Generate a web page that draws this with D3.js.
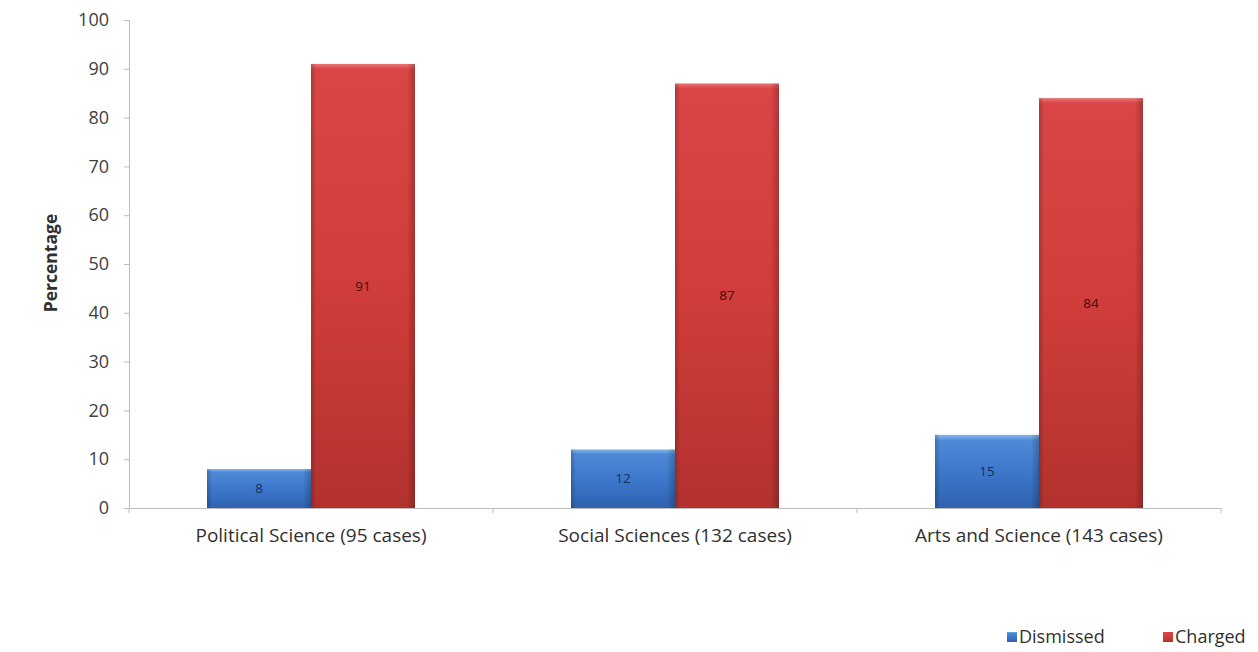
<!DOCTYPE html>
<html><head><meta charset="utf-8">
<script src="https://cdn.jsdelivr.net/npm/d3@7"></script>
<style>body{margin:0;background:#fff;} svg{display:block;font-family:"Open Sans","Liberation Sans",sans-serif;}</style>
</head><body>
<svg id="c" width="1258" height="652"></svg>
<script>
const categories = ["Political Science (95 cases)", "Social Sciences (132 cases)", "Arts and Science (143 cases)"];
const seriesNames = ["Dismissed", "Charged"];
const dismissed = [8, 12, 15];
const charged = [91, 87, 84];
const yTicks = [0,10,20,30,40,50,60,70,80,90,100];

const FONT = '"Open Sans","Liberation Sans",sans-serif';
const svg = d3.select("#c");
const m = {l:129, r:1221, t:20, b:508};
const x = d3.scaleBand().domain(categories).range([m.l, m.r]).paddingInner(0).paddingOuter(0);
const x1 = d3.scaleBand().domain(seriesNames).range([0, x.bandwidth()]).paddingInner(0).paddingOuter(0.75);
const y = d3.scaleLinear().domain([0,100]).range([m.b, m.t]);

const defs = svg.append("defs");
function grad(id, stops, dir){
  const g = defs.append("linearGradient").attr("id", id)
    .attr("x1",0).attr("y1",0).attr("x2", dir==="h"?1:0).attr("y2", dir==="h"?0:1);
  stops.forEach(s=>g.append("stop").attr("offset",s[0]).attr("stop-color",s[1]));
}
grad("blueV", [[0,"#86b8f0"],[0.08,"#4f8ad8"],[0.5,"#3d78cc"],[1,"#2f62b0"]], "v");
grad("redV", [[0,"#ea7575"],[0.012,"#da4646"],[0.5,"#d03d3a"],[1,"#b3322e"]], "v");
grad("edgeH", [[0,"rgba(0,0,0,0.2)"],[0.05,"rgba(0,0,0,0)"],[0.92,"rgba(0,0,0,0)"],[1,"rgba(0,0,0,0.22)"]], "h");

// y axis
const yAxis = d3.axisLeft(y).tickValues(yTicks).tickSize(5).tickPadding(15);
const gy = svg.append("g").attr("transform", `translate(${m.l},0)`).call(yAxis).attr("font-family", FONT);
gy.select(".domain").attr("stroke","#bdbdbd");
gy.selectAll(".tick line").attr("stroke","#bdbdbd");
gy.selectAll(".tick text").attr("fill","#404040").style("font-size","18px");

// x axis
const xAxis = d3.axisBottom(x).tickSize(0).tickPadding(21);
const gx = svg.append("g").attr("transform", `translate(0,${m.b})`).call(xAxis).attr("font-family", FONT);
gx.select(".domain").attr("stroke","#bdbdbd");
gx.selectAll(".tick text").attr("fill","#303030").style("font-size","19px");
const bounds = categories.map(c=>x(c)).concat([x(categories[2])+x.bandwidth()]);
gx.selectAll(".btick").data(bounds).enter().append("line")
  .attr("x1",d=>d).attr("x2",d=>d).attr("y1",0).attr("y2",5).attr("stroke","#bdbdbd");

const data = categories.map((c,i)=>({c, vals:[{s:"Dismissed",v:dismissed[i]},{s:"Charged",v:charged[i]}]}));
const groups = svg.append("g").selectAll("g").data(data).enter().append("g")
  .attr("transform", d=>`translate(${x(d.c)},0)`);
const bars = groups.selectAll("g.bar").data(d=>d.vals).enter().append("g").attr("class","bar");
bars.append("rect")
  .attr("x", d=>x1(d.s)).attr("width", x1.bandwidth())
  .attr("y", d=>y(d.v)).attr("height", d=>y(0)-y(d.v))
  .attr("fill", d=>d.s==="Dismissed"?"url(#blueV)":"url(#redV)");
bars.append("rect")
  .attr("x", d=>x1(d.s)).attr("width", x1.bandwidth())
  .attr("y", d=>y(d.v)).attr("height", d=>y(0)-y(d.v))
  .attr("fill", "url(#edgeH)");
bars.append("text")
  .attr("x", d=>x1(d.s)+x1.bandwidth()/2)
  .attr("y", d=>(y(d.v)+y(0))/2)
  .attr("dy","0.35em").attr("text-anchor","middle")
  .style("font-size","13.5px")
  .attr("fill", d=>d.s==="Dismissed"?"#1c2f55":"#3a1010")
  .text(d=>d.v);

// y label
svg.append("text").attr("transform","translate(57,263) rotate(-90)")
  .attr("text-anchor","middle").style("font-size","17.5px").style("font-weight","bold")
  .attr("fill","#303030").text("Percentage");

// legend
const legend = [{s:"Dismissed", x:1007},{s:"Charged", x:1163}];
const lg = svg.append("g").selectAll("g").data(legend).enter().append("g")
  .attr("transform", d=>`translate(${d.x},632)`);
lg.append("rect").attr("width",10).attr("height",10)
  .attr("fill", d=>d.s==="Dismissed"?"url(#blueV)":"url(#redV)");
lg.append("text").attr("x",12).attr("y",11).style("font-size","18px").attr("fill","#303030")
  .text(d=>d.s);
</script>
</body></html>
